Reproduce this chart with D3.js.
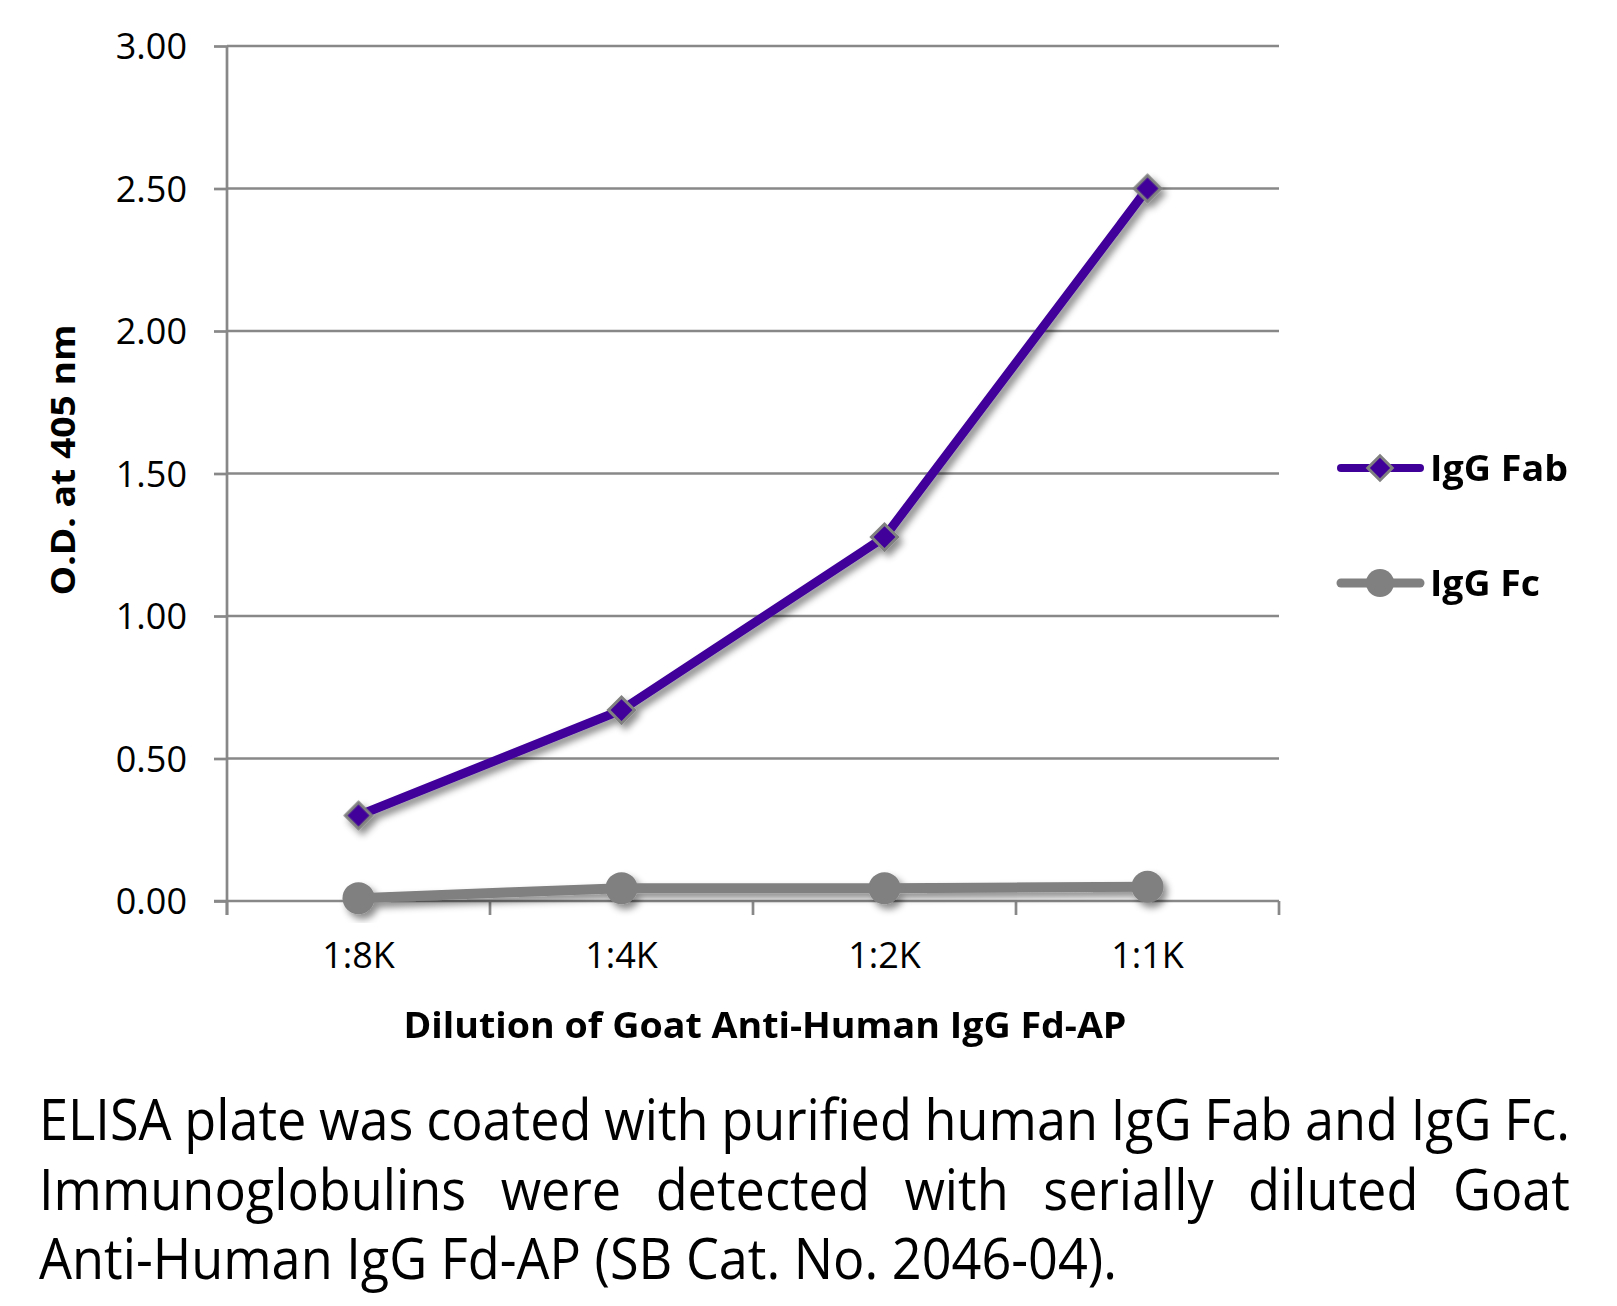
<!DOCTYPE html>
<html><head><meta charset="utf-8">
<script src="https://cdn.jsdelivr.net/npm/d3@7"></script>
<style>
html,body{margin:0;padding:0;background:#fff;}
svg{display:block;}
text{font-family:"Open Sans",sans-serif;}
</style></head>
<body>
<script>
const categories = ["1:8K","1:4K","1:2K","1:1K"];
const fabValues = [0.30, 0.67, 1.277, 2.50];
const fcValues = [0.01, 0.045, 0.045, 0.05];
const yTicks = [0, 0.5, 1.0, 1.5, 2.0, 2.5, 3.0];
const seriesNames = ["IgG Fab","IgG Fc"];
const xTitle = "Dilution of Goat Anti-Human IgG Fd-AP";
const yTitle = "O.D. at 405 nm";
const captionLines = [
  {text:"ELISA plate was coated with purified human IgG Fab and IgG Fc.", justify:true},
  {text:"Immunoglobulins were detected with serially diluted Goat", justify:true},
  {text:"Anti-Human IgG Fd-AP (SB Cat. No. 2046-04).", justify:false}
];

const W=1617,H=1306;
const m={left:227,right:1279,top:46,bottom:901};
const svg=d3.select("body").append("svg").attr("width",W).attr("height",H);
const defs=svg.append("defs");
const f=defs.append("filter").attr("id","sh").attr("x","-20%").attr("y","-20%").attr("width","140%").attr("height","140%");
f.append("feDropShadow").attr("dx",4).attr("dy",5).attr("stdDeviation",3.5).attr("flood-color","#000").attr("flood-opacity",0.45);

const x=d3.scaleBand().domain(categories).range([m.left,m.right]).padding(0);
const y=d3.scaleLinear().domain([0,3]).range([m.bottom,m.top]);

// y axis ticks & labels
const gy=svg.append("g").attr("transform",`translate(${m.left},0)`)
  .call(d3.axisLeft(y).tickValues(yTicks).tickFormat(d3.format(".2f")).tickSize(13).tickPadding(27));
gy.select(".domain").remove();
gy.selectAll(".tick line").attr("stroke","#888").attr("stroke-width",2.7);
gy.selectAll(".tick text").attr("font-size",36).attr("fill","#000").attr("font-family","Open Sans").attr("dy","0.36em");
// gridlines
svg.append("g").selectAll("line").data(yTicks.slice(1)).join("line")
  .attr("x1",m.left).attr("x2",m.right).attr("y1",d=>y(d)).attr("y2",d=>y(d))
  .attr("stroke","#888").attr("stroke-width",2.7);
// y axis line
svg.append("line").attr("x1",m.left).attr("x2",m.left).attr("y1",m.top).attr("y2",m.bottom+14)
  .attr("stroke","#888").attr("stroke-width",2.7);
// x axis
const gx=svg.append("g").attr("transform",`translate(0,${m.bottom})`)
  .call(d3.axisBottom(x).tickSize(0).tickPadding(41));
gx.select(".domain").remove();
gx.selectAll(".tick text").attr("font-size",36).attr("fill","#000").attr("font-family","Open Sans").attr("dy","0.71em");
svg.append("line").attr("x1",m.left-13).attr("x2",m.right).attr("y1",m.bottom).attr("y2",m.bottom)
  .attr("stroke","#888").attr("stroke-width",2.7);
const bounds=categories.map(c=>x(c)).concat([m.right]);
svg.append("g").selectAll("line").data(bounds).join("line")
  .attr("x1",d=>d).attr("x2",d=>d).attr("y1",m.bottom).attr("y2",m.bottom+14)
  .attr("stroke","#888").attr("stroke-width",2.7);

const cx=c=>x(c)+x.bandwidth()/2;
const line=d3.line().x((d,i)=>cx(categories[i])).y(d=>y(d));

// Fc series
const gfc=svg.append("g").attr("filter","url(#sh)");
gfc.append("path").datum(fcValues).attr("d",line).attr("fill","none").attr("stroke","#808080").attr("stroke-width",10).attr("stroke-linejoin","round");
gfc.selectAll("circle").data(fcValues).join("circle").attr("cx",(d,i)=>cx(categories[i])).attr("cy",d=>y(d)).attr("r",16).attr("fill","#808080");

// Fab series
const gfab=svg.append("g").attr("filter","url(#sh)");
gfab.append("path").datum(fabValues).attr("d",line).attr("fill","none").attr("stroke","#3f0099").attr("stroke-width",9).attr("stroke-linejoin","round");
gfab.selectAll("path.m").data(fabValues).join("path").attr("class","m")
  .attr("transform",(d,i)=>`translate(${cx(categories[i])},${y(d)}) rotate(45)`)
  .attr("d",d3.symbol().type(d3.symbolSquare).size(340))
  .attr("fill","#3f0099").attr("stroke","#808080").attr("stroke-width",3);

// Axis titles
svg.append("text").attr("transform",`translate(75,${460}) rotate(-90)`)
  .attr("text-anchor","middle").attr("font-weight","bold").attr("font-size",34)
  .attr("textLength",271).attr("lengthAdjust","spacingAndGlyphs").text(yTitle);
svg.append("text").attr("x",765).attr("y",1038).attr("text-anchor","middle")
  .attr("font-weight","bold").attr("font-size",35)
  .attr("textLength",723).attr("lengthAdjust","spacingAndGlyphs").text(xTitle);

// Legend
const leg=[{name:seriesNames[0],color:"#3f0099",y:468,type:"d",len:138},{name:seriesNames[1],color:"#808080",y:583,type:"c",len:110}];
leg.forEach(l=>{
  svg.append("line").attr("x1",1341).attr("x2",1420).attr("y1",l.y).attr("y2",l.y)
    .attr("stroke",l.color).attr("stroke-width",l.type==="d"?8:9).attr("stroke-linecap","round");
  if(l.type==="d"){
    svg.append("path").attr("transform",`translate(1380,${l.y}) rotate(45)`)
      .attr("d",d3.symbol().type(d3.symbolSquare).size(300)).attr("fill",l.color).attr("stroke","#808080").attr("stroke-width",3);
  } else {
    svg.append("circle").attr("cx",1380).attr("cy",l.y).attr("r",14).attr("fill",l.color);
  }
  svg.append("text").attr("x",1430).attr("y",l.y+13).attr("font-weight","bold").attr("font-size",35)
    .attr("textLength",l.len).attr("lengthAdjust","spacingAndGlyphs").text(l.name);
});

// Caption
const capL=39,capR=1570,capSize=56,line3W=1078;
const baselines=[1140,1210,1279];
// horizontal compression factor from the left-aligned last line
const probe=svg.append("text").attr("font-size",capSize).text(captionLines[2].text);
const k=line3W/probe.node().getComputedTextLength();
probe.remove();
captionLines.forEach((cl,li)=>{
  if(!cl.justify){
    svg.append("text").attr("x",capL).attr("y",baselines[li]).attr("font-size",capSize)
      .attr("textLength",line3W).attr("lengthAdjust","spacingAndGlyphs").text(cl.text);
    return;
  }
  const words=cl.text.split(" ");
  const ts=words.map(w=>svg.append("text").attr("y",baselines[li]).attr("font-size",capSize).text(w));
  const widths=ts.map(t=>t.node().getComputedTextLength()*k);
  const total=d3.sum(widths);
  const gap=(capR-capL-total)/(words.length-1);
  let xx=capL;
  ts.forEach((t,i)=>{t.attr("x",xx).attr("textLength",widths[i]).attr("lengthAdjust","spacingAndGlyphs"); xx+=widths[i]+gap;});
});
</script>
</body></html>
